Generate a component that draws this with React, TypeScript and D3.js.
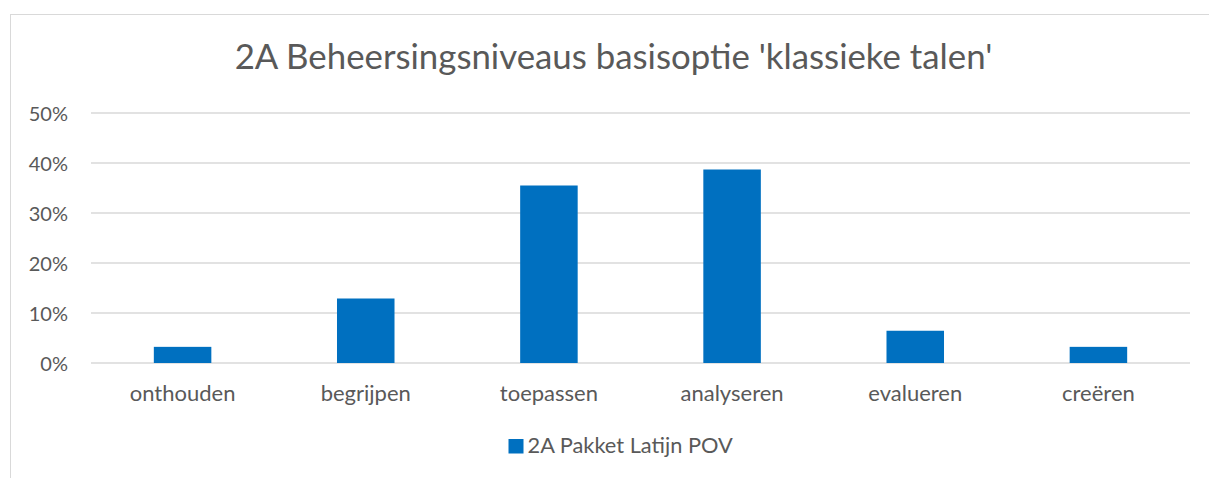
import React from "react";
import * as d3 from "d3";

const title = "2A Beheersingsniveaus basisoptie 'klassieke talen'";
const categories = ["onthouden", "begrijpen", "toepassen", "analyseren", "evalueren", "creëren"];
const seriesName = "2A Pakket Latijn POV";
const values = [0.0323, 0.129, 0.355, 0.387, 0.0645, 0.0323];
const yTicks = [0, 0.1, 0.2, 0.3, 0.4, 0.5];

const W = 1209;
const H = 478;
const FONT = "Lato, 'Open Sans', sans-serif";
const TEXT = "#595959";
const GRID = "#d9d9d9";
const BAR = "#0070c0";

export default function App() {
  const x = d3
    .scaleBand<string>()
    .domain(categories)
    .range([91, 1190])
    .paddingInner(0.686)
    .paddingOuter(0.343);
  const y = d3.scaleLinear().domain([0, 0.5]).range([363, 113]);
  const fmt = d3.format(".0%");

  return (
    <div style={{ position: "absolute", left: 0, top: 0 }}>
      <svg width={W} height={H} style={{ display: "block", background: "#fff" }}>
        <rect x={10.5} y={14.5} width={1240} height={500} fill="#fff" stroke={GRID} strokeWidth={1} />
        <text
          x={613.5}
          y={69}
          textAnchor="middle"
          fontFamily={FONT}
          fontSize={34.8}
          fill={TEXT}
        >
          {title}
        </text>
        {yTicks.map((t) => (
          <g key={t}>
            <line x1={91} x2={1190} y1={y(t)} y2={y(t)} stroke={GRID} strokeWidth={1.3} />
            <text
              x={68}
              y={y(t) + 7.5}
              textAnchor="end"
              fontFamily={FONT}
              fontSize={20}
              fill={TEXT}
            >
              {fmt(t)}
            </text>
          </g>
        ))}
        {categories.map((c, i) => (
          <g key={c}>
            <rect
              x={x(c)}
              y={y(values[i])}
              width={x.bandwidth()}
              height={y(0) - y(values[i])}
              fill={BAR}
            />
            <text
              x={(x(c) as number) + x.bandwidth() / 2}
              y={400.5}
              textAnchor="middle"
              fontFamily={FONT}
              fontSize={22}
              fill={TEXT}
            >
              {c}
            </text>
          </g>
        ))}
        <rect x={508.5} y={439} width={15} height={14.5} fill={BAR} />
        <text x={527.5} y={453} fontFamily={FONT} fontSize={21.8} fill={TEXT}>
          {seriesName}
        </text>
      </svg>
    </div>
  );
}
